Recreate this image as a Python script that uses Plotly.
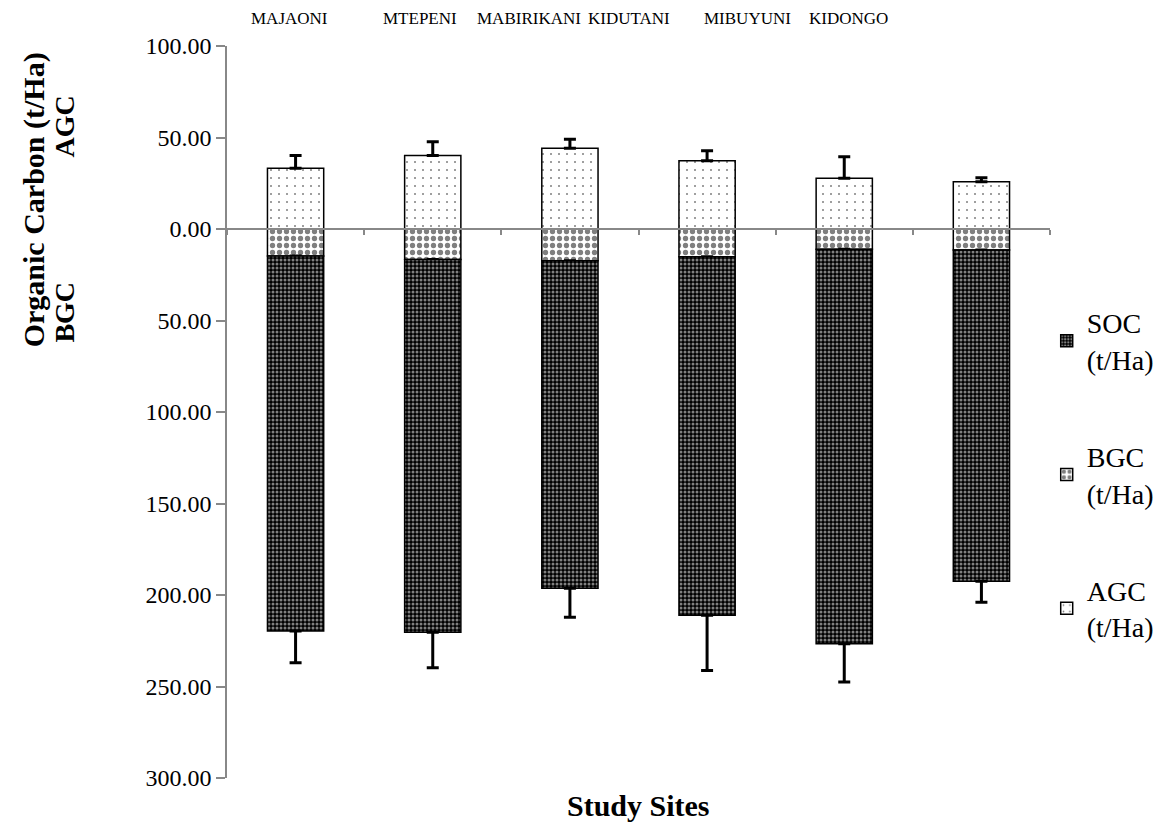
import plotly.graph_objects as go

sites = ["MAJAONI", "MTEPENI", "MABIRIKANI", "KIDUTANI", "MIBUYUNI", "KIDONGO"]
agc = [33.2, 40.1, 44.1, 37.3, 27.7, 25.8]
agc_err = [7.0, 7.6, 5.0, 5.5, 11.8, 2.2]
bgc = [14.7, 16.6, 17.3, 15.1, 11.1, 11.5]
bgc_err = [2.0, 2.0, 2.0, 1.5, 3.0, 1.0]
soc = [205.0, 203.8, 179.0, 196.0, 215.5, 181.0]
soc_err = [17.3, 19.3, 15.9, 30.2, 20.9, 11.5]

tick_vals = [-300, -250, -200, -150, -100, -50, 0, 50, 100]
tick_text = ["300.00", "250.00", "200.00", "150.00", "100.00", "50.00", "0.00", "50.00", "100.00"]

# label positions of site names at the top (paper fractions)
site_label_x = [0.0764, 0.235, 0.367, 0.488, 0.633, 0.755]

FONT = "Liberation Serif"
LINE = dict(color="black", width=1.5)
ERR = dict(type="data", symmetric=False, color="black", thickness=3, width=6)

fig = go.Figure()
fig.add_trace(go.Bar(
    x=sites, y=agc, name="AGC<br>(t/Ha)", legendgroup="agc", legendrank=3, width=0.41,
    marker=dict(color="white", line=LINE,
                pattern=dict(shape=".", fgcolor="black", bgcolor="white", size=8, solidity=0.05)),
    error_y=dict(ERR, array=agc_err, arrayminus=[0] * len(agc)),
))
fig.add_trace(go.Bar(
    x=sites, y=[-v for v in bgc], name="BGC<br>(t/Ha)", legendgroup="bgc", legendrank=2, width=0.41,
    marker=dict(color="white", line=LINE,
                pattern=dict(shape=".", fgcolor="black", bgcolor="white", size=7, solidity=0.45)),
    error_y=dict(ERR, array=[0] * len(bgc), arrayminus=bgc_err),
))
fig.add_trace(go.Bar(
    x=sites, y=[-v for v in soc], name="SOC<br>(t/Ha)", legendgroup="soc", legendrank=1, width=0.41,
    marker=dict(color="black", line=LINE,
                pattern=dict(shape=".", fgcolor="white", bgcolor="black", size=4, solidity=0.45)),
    error_y=dict(ERR, array=[0] * len(soc), arrayminus=soc_err),
))

annotations = []
for name, xp in zip(sites, site_label_x):
    annotations.append(dict(text=name, x=xp, y=1.038, xref="paper", yref="paper",
                            showarrow=False, xanchor="center", yanchor="middle",
                            font=dict(family=FONT, size=17, color="black")))
annotations += [
    dict(text="<b>Organic Carbon (t/Ha)</b>", x=-0.235, y=0.79, xref="paper", yref="paper",
         xanchor="center", yanchor="middle",
         textangle=-90, showarrow=False, font=dict(family=FONT, size=30, color="black")),
    dict(text="<b>AGC</b>", x=-0.197, y=0.89, xref="paper", yref="paper",
         xanchor="center", yanchor="middle",
         textangle=-90, showarrow=False, font=dict(family=FONT, size=28, color="black")),
    dict(text="<b>BGC</b>", x=-0.197, y=0.637, xref="paper", yref="paper",
         xanchor="center", yanchor="middle",
         textangle=-90, showarrow=False, font=dict(family=FONT, size=28, color="black")),
    dict(text="<b>Study Sites</b>", x=0.5, y=-0.037, xref="paper", yref="paper",
         xanchor="center", yanchor="middle",
         showarrow=False, font=dict(family=FONT, size=30, color="black")),
]

fig.update_layout(
    width=1163, height=823,
    margin=dict(l=219, r=119, t=38, b=53),
    paper_bgcolor="white", plot_bgcolor="white",
    barmode="relative",
    showlegend=True,
    legend=dict(x=0.996, y=0.656, xanchor="left", yanchor="top", traceorder="grouped",
                tracegroupgap=58, font=dict(family=FONT, size=28, color="black"),
                bgcolor="rgba(0,0,0,0)"),
    annotations=annotations,
    font=dict(family=FONT, color="black"),
)
fig.update_xaxes(
    type="category", categoryorder="array", categoryarray=sites, range=[-0.5, 5.5],
    anchor="free", position=0.75, showline=True, linecolor="#888888", linewidth=2,
    ticks="outside", tickson="boundaries", ticklen=5, tickcolor="#888888", tickwidth=1.5,
    showticklabels=False, showgrid=False, zeroline=False,
)
fig.update_yaxes(
    range=[-300, 100], tickvals=tick_vals, ticktext=tick_text,
    showline=True, linecolor="#888888", linewidth=1.5,
    ticks="outside", ticklen=9, tickcolor="#888888", tickwidth=1.5,
    tickfont=dict(family=FONT, size=24, color="black"),
    showgrid=False, zeroline=False,
)

fig.write_html("out.html")
